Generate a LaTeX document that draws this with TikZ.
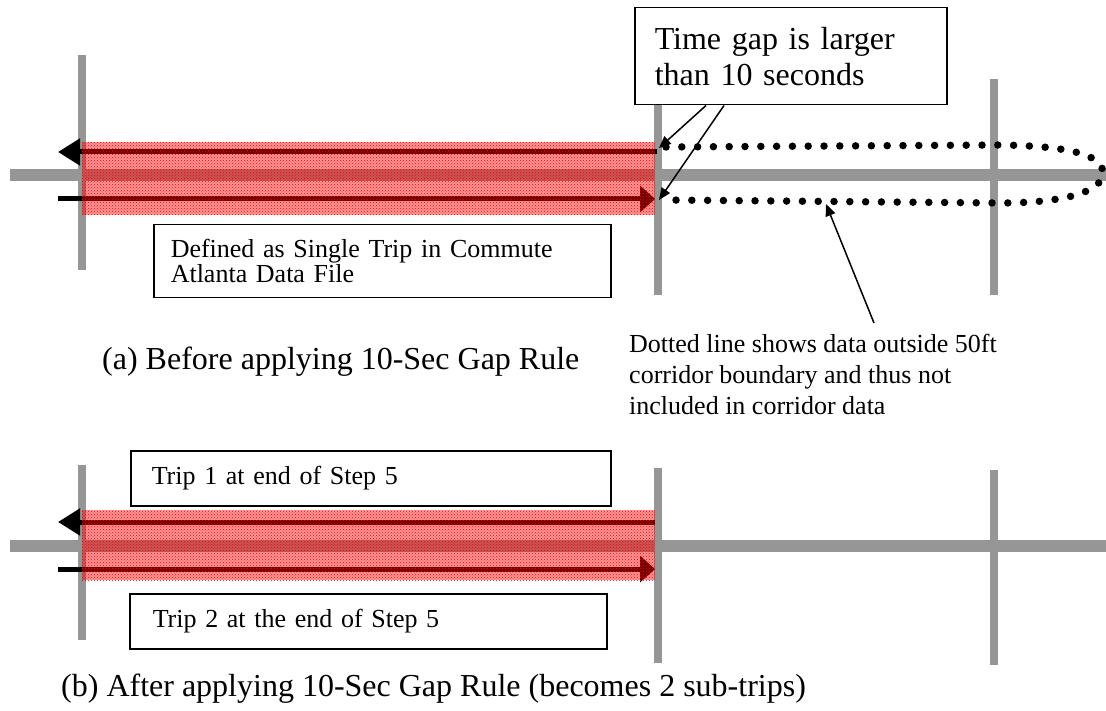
\documentclass[tikz,border=0pt]{standalone}
\usepackage{fontspec}
\setmainfont{Liberation Serif}
\usetikzlibrary{arrows.meta,patterns}
\definecolor{roadgray}{RGB}{150,150,150}
\tikzset{
  road/.style={draw=roadgray,line width=12pt},
  cross/.style={draw=roadgray,line width=8pt},
  box/.style={draw,line width=1.5pt,fill=white,anchor=north west,align=left},
  boxfont/.style={font=\fontsize{26}{25}\selectfont},
  capfont/.style={font=\fontsize{32}{36}\selectfont},
  trip/.style={fill=red,fill opacity=0.42},
  tripdots/.style={pattern=crosshatch dots,pattern color=red},
  arrl/.style={-{Triangle[length=22pt,width=26pt]},line width=5pt},
  arrr/.style={-{Triangle[length=15pt,width=26pt]},line width=5pt},
  callarr/.style={-{Triangle[length=12pt,width=10pt]},line width=1.5pt},
  dotline/.style={line width=7.5pt,line cap=round,dash pattern=on 0pt off 15.8pt},
}
\begin{document}
\begin{tikzpicture}[x=1pt,y=-1pt]
\useasboundingbox (0,0) rectangle (1106,711);
% (a) before
\draw[road] (10,175) -- (1106,175);
\foreach \x/\a/\b in {82/55/270,658/80/295,994/79/295}
  \draw[cross] (\x,\a) -- (\x,\b);
\draw[arrl] (657,152) -- (58,152);
\draw[arrr] (58,199) -- (655,199);
\fill[trip] (82,142) rectangle (655,215);
\fill[tripdots] (82,142) rectangle (655,215);
\draw[dotline] (666,147) -- (1000,145) .. controls (1070,146) and (1103,155) .. (1103,173)
  .. controls (1103,190) and (1070,203) .. (1000,203) -- (666,200);
\coordinate (gapa) at (659,148);
\coordinate (gapb) at (659,200);
\coordinate (dotbot) at (826,204);

\node[box,font=\fontsize{32}{36}\selectfont,minimum height=97pt,inner xsep=20pt,text width=272pt] (timegap) at (634,7)
  {Time gap is larger\\than 10 seconds};
\draw[callarr] ([xshift=72pt]timegap.south west) -- (gapa);
\draw[callarr] ([xshift=90pt]timegap.south west) -- (gapb);

\node[box,boxfont,minimum height=73pt,inner xsep=17pt,text width=423pt] (defined) at (153,224)
  {Defined as Single Trip in Commute\\Atlanta Data File};

\node[anchor=base west,capfont,inner sep=0pt] (capa) at (102,370)
  {(a) Before applying 10-Sec Gap Rule};

\node[anchor=north west,align=left,font=\fontsize{26}{31}\selectfont,inner sep=0pt] (dotnote) at (629,334)
  {Dotted line shows data outside 50ft\\corridor boundary and thus not\\included in corridor data};
\draw[callarr] ([xshift=245pt,yshift=11pt]dotnote.north west) -- (dotbot);

% (b) after
\draw[road] (10,546) -- (1106,546);
\foreach \x/\a/\b in {82/465/640,658/468/663,994/470/665}
  \draw[cross] (\x,\a) -- (\x,\b);
\draw[arrl] (655,522) -- (58,522);
\draw[arrr] (58,569) -- (655,569);
\fill[trip] (82,510) rectangle (655,580);
\fill[tripdots] (82,510) rectangle (655,580);

\node[box,boxfont,minimum height=55pt,inner xsep=21pt,text width=438pt] (trip1) at (130,450)
  {Trip 1 at end of Step 5};
\node[box,boxfont,minimum height=55pt,inner xsep=23pt,text width=431pt] (trip2) at (129,593)
  {Trip 2 at the end of Step 5};

\node[anchor=base west,capfont,inner sep=0pt] (capb) at (61,696)
  {(b) After applying 10-Sec Gap Rule (becomes 2 sub-trips)};
\end{tikzpicture}
\end{document}
